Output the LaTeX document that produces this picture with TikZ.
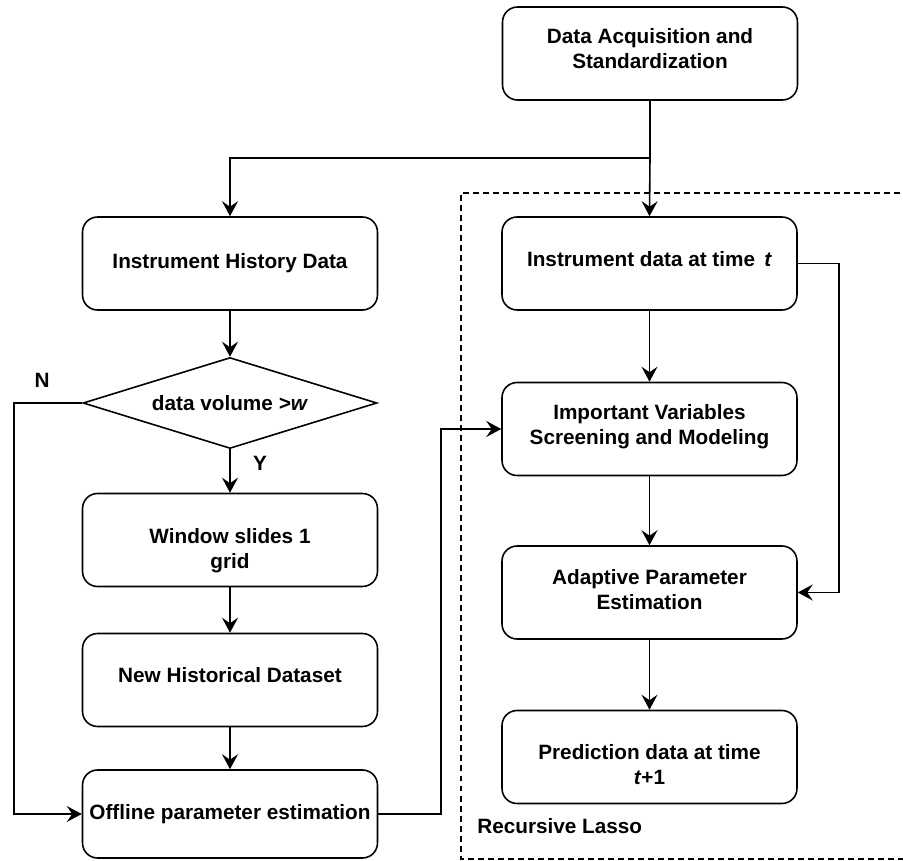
\documentclass[tikz,border=0pt]{standalone}
\usepackage{fontspec}
\setmainfont{Liberation Sans}
\usepackage{tikz}
\usetikzlibrary{positioning}
\usetikzlibrary{arrows.meta,shapes.geometric}

\newcommand{\flowfont}{\fontsize{11.8}{14}\selectfont\bfseries}
% struts that move the text inside a fixed-size box
\newcommand{\padtop}[1]{\rule{0pt}{#1}}
\newcommand{\padbot}[1]{\rule[-#1]{0pt}{#1}}

\tikzset{
	flowbox/.style={draw, rounded corners=0.3cm, line width=0.9pt, align=center,
		minimum width=5.9cm, minimum height=1.86cm, font=\flowfont},
	flowtest/.style={draw, diamond, aspect=3.2, inner sep=0pt, line width=0.9pt,
		minimum width=5.88cm, minimum height=1.82cm, font=\flowfont},
	flowline/.style={line width=0.9pt, -{Stealth[length=3mm, width=3.2mm, inset=1.1mm]}},
	flowtag/.style={font=\flowfont, inner sep=0pt},
	lassoframe/.style={line width=0.8pt, dash pattern=on 3.4pt off 2.3pt},
}

\begin{document}
\begin{tikzpicture}[x=0.02cm, y=-0.02cm]
	
	% ------------------------------------------------
	% Keep the page as large as the diagram
	\useasboundingbox (0,0) rectangle (903,861);
	
	% ------------------------------------------------
	% Recursive Lasso frame
	\draw[lassoframe] (910,193) -- (461,193) -- (461,859) -- (910,859);
	\node[flowtag, anchor=west] (lasso) at (477,826) {Recursive Lasso};
	
	% ----------------
	% Boxes
	\node[flowbox] (acq) at (650,53.5) {Data Acquisition and\\Standardization\padbot{5.6pt}};
	
	\node[flowbox] (hist)    at (230,263.5) {Instrument History Data};
	\node[flowtest] (volume) at (230,403)   {data volume \textit{>w}};
	\node[flowbox] (window)  at (230,540)   {\padtop{21pt}Window slides 1\\grid};
	\node[flowbox] (newset)  at (230,680)   {New Historical Dataset\padbot{5.8pt}};
	\node[flowbox, minimum height=1.76cm] (offline) at (230,814) {Offline parameter estimation};
	
	\node[flowbox] (inst)  at (649.5,263.5) {Instrument data at time~\,\textit{t}\padbot{4.8pt}};
	\node[flowbox] (imp)   at (649.5,429)   {Important Variables\\Screening and Modeling\padbot{5.3pt}};
	\node[flowbox] (adapt) at (649.5,592.5) {Adaptive Parameter\\Estimation\padbot{3.6pt}};
	\node[flowbox] (pred)  at (649.5,757)   {\padtop{17pt}Prediction data at time\\\textit{t}+1};
	
	% ----------------
	% Branch labels
	\node[flowtag] (nlabel) at (42,380) {N};
	\node[flowtag] (ylabel) at (260,463) {Y};
	
	% ------------------------------------------------
	% Relevant coordinates
	\path (acq.south) +(0,57) coordinate (split);
	\path (volume.west) +(-68,0) coordinate (nbend);
	\path (offline.east) +(63,0) coordinate (obend);
	\path (inst.east) +(41,0) coordinate (ibend);
	
	%%%%%%%%%%%%%%%%%%%%%%%%%%%%%%%%%%%%%%%%%
	% Connectors
	\draw[line width=0.9pt] (acq.south) -- (split);
	\draw[flowline] (split) -| (hist.north);
	\draw[flowline] (split) -- (inst.north);
	
	\draw[flowline] (hist) -- (volume);
	\draw[flowline] (volume) -- (window);
	\draw[flowline] (volume.west) -- (nbend) |- (offline.west);
	\draw[flowline] (window) -- (newset);
	\draw[flowline] (newset) -- (offline);
	\draw[flowline] (offline.east) -- (obend) |- (imp.west);
	
	\draw[flowline] (inst) -- (imp);
	\draw[flowline] (inst.east) -- (ibend) |- (adapt.east);
	\draw[flowline] (imp) -- (adapt);
	\draw[flowline] (adapt) -- (pred);
	
\end{tikzpicture}
\end{document}
